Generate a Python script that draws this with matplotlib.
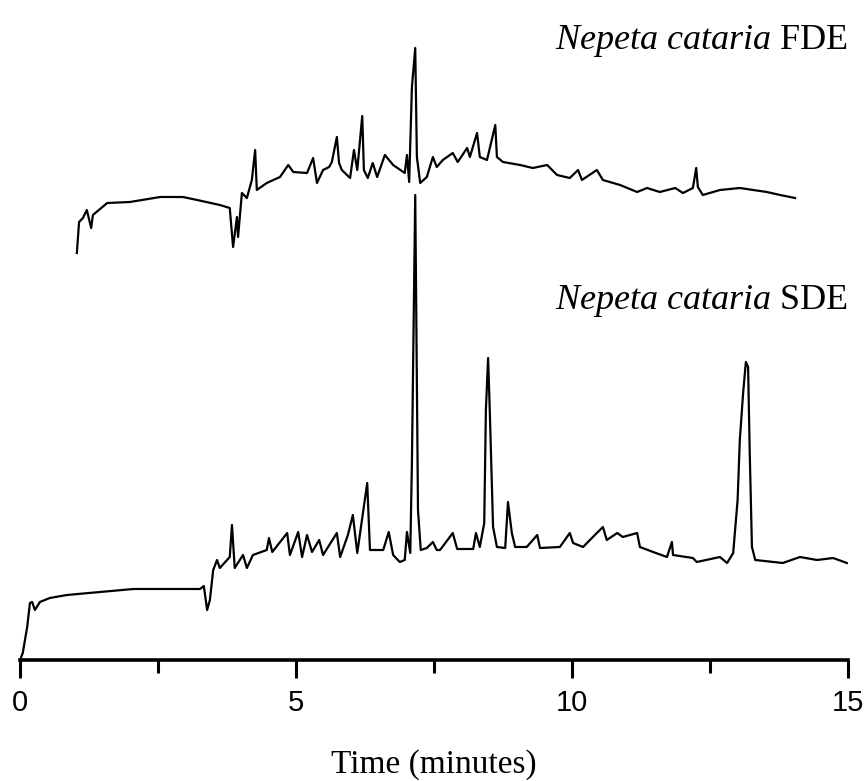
import numpy as np
import matplotlib
matplotlib.use('Agg')
import matplotlib.pyplot as plt
from matplotlib.ticker import MultipleLocator
from matplotlib import font_manager

plt.rcParams['mathtext.fontset'] = 'custom'
plt.rcParams['mathtext.rm'] = 'Liberation Serif'
plt.rcParams['mathtext.it'] = 'Liberation Serif:italic'

# chromatograms (time in minutes, detector response in arbitrary units)
sde_time = [0.00, 0.05, 0.13, 0.18, 0.22, 0.27, 0.36, 0.54, 0.85, 1.45,
            2.05, 2.66, 3.26, 3.33, 3.39, 3.44, 3.50, 3.57, 3.62, 3.80,
            3.84, 3.89, 4.04, 4.11, 4.22, 4.47, 4.51, 4.57, 4.84, 4.89,
            5.04, 5.11, 5.20, 5.29, 5.42, 5.49, 5.74, 5.80, 5.94, 6.03,
            6.11, 6.29, 6.34, 6.58, 6.68, 6.76, 6.88, 6.97, 7.01, 7.07,
            7.10, 7.16, 7.21, 7.26, 7.37, 7.48, 7.55, 7.61, 7.84, 7.92,
            8.21, 8.26, 8.33, 8.41, 8.44, 8.48, 8.51, 8.57, 8.64, 8.79,
            8.84, 8.91, 8.97, 9.18, 9.37, 9.42, 9.78, 9.96, 10.02, 10.20,
            10.45, 10.56, 10.63, 10.82, 10.92, 11.18, 11.23, 11.47, 11.72, 11.81,
            11.83, 12.19, 12.26, 12.68, 12.81, 12.92, 13.00, 13.04, 13.10, 13.15,
            13.19, 13.22, 13.26, 13.32, 13.82, 14.13, 14.44, 14.73, 14.98]
sde_signal = [0, 7, 33, 57, 58, 50, 58, 62, 65, 68,
              71, 71, 71, 74, 50, 60, 90, 100, 92, 103,
              135, 92, 105, 92, 105, 110, 122, 108, 127, 105,
              128, 103, 125, 108, 120, 105, 127, 103, 125, 145,
              107, 177, 110, 110, 128, 105, 98, 100, 128, 107,
              198, 465, 150, 110, 112, 118, 110, 110, 127, 111,
              111, 127, 113, 137, 250, 302, 250, 133, 113, 112,
              158, 127, 113, 113, 125, 112, 113, 127, 117, 113,
              127, 133, 120, 127, 123, 127, 113, 108, 103, 118,
              105, 102, 98, 103, 97, 107, 160, 220, 267, 298,
              293, 207, 113, 100, 97, 103, 100, 102, 97]

fde_time = [1.03, 1.07, 1.14, 1.21, 1.29, 1.32, 1.58, 1.99, 2.54, 2.95,
            3.21, 3.62, 3.80, 3.86, 3.93, 3.95, 4.02, 4.11, 4.20, 4.26,
            4.29, 4.47, 4.71, 4.86, 4.95, 5.20, 5.31, 5.38, 5.49, 5.60,
            5.65, 5.74, 5.78, 5.83, 5.98, 6.05, 6.11, 6.20, 6.23, 6.30,
            6.39, 6.47, 6.61, 6.76, 6.97, 7.01, 7.05, 7.10, 7.16, 7.19,
            7.25, 7.37, 7.48, 7.55, 7.66, 7.84, 7.93, 8.10, 8.15, 8.28,
            8.33, 8.46, 8.61, 8.64, 8.75, 9.06, 9.29, 9.55, 9.73, 9.96,
            10.11, 10.18, 10.45, 10.56, 10.87, 11.18, 11.36, 11.59, 11.87, 12.01,
            12.19, 12.25, 12.28, 12.37, 12.68, 13.04, 13.53, 13.77, 14.04]
fde_signal = [27, 58, 62, 70, 52, 65, 77, 78, 83, 83,
              80, 75, 72, 33, 63, 43, 87, 82, 100, 130,
              90, 97, 103, 115, 108, 107, 122, 97, 110, 113,
              118, 143, 117, 110, 102, 130, 110, 164, 110, 102,
              117, 103, 125, 115, 107, 125, 98, 193, 232, 123,
              97, 103, 123, 113, 120, 127, 118, 132, 123, 147,
              123, 120, 155, 123, 118, 115, 112, 115, 105, 102,
              110, 100, 110, 100, 95, 88, 92, 88, 92, 87,
              92, 112, 93, 85, 90, 92, 88, 85, 82]

fde_offset = 380
labels = [r'$\mathit{Nepeta\ cataria}$ FDE', r'$\mathit{Nepeta\ cataria}$ SDE']

# narrow sans for tick numbers if there is one
names = {f.name for f in font_manager.fontManager.ttflist}
tick_font = 'Liberation Sans Narrow' if 'Liberation Sans Narrow' in names else 'Liberation Sans'

fig = plt.figure(figsize=(8.68, 7.81), dpi=100)
ax = fig.add_axes([20 / 868, 121 / 781, 828 / 868, 640 / 781])

ax.plot(sde_time, sde_signal, color='black', lw=1.6)
ax.plot(fde_time, np.array(fde_signal) + fde_offset, color='black', lw=1.6)

ax.text(15, 611, labels[0], ha='right', va='baseline', fontsize=26,
        family='Liberation Serif')
ax.text(15, 351, labels[1], ha='right', va='baseline', fontsize=26,
        family='Liberation Serif')

ax.set_xlim(0, 15)
ax.set_ylim(0, 640)
for side in ['top', 'right', 'left']:
    ax.spines[side].set_visible(False)
ax.spines['bottom'].set_linewidth(2.6)
ax.set_yticks([])
ax.xaxis.set_major_locator(MultipleLocator(5))
ax.xaxis.set_minor_locator(MultipleLocator(2.5))
ax.tick_params(axis='x', which='major', length=13, width=2.2, pad=8,
               labelsize=21, labelfontfamily=tick_font)
ax.tick_params(axis='x', which='minor', length=9, width=2.2)
ax.set_xlabel('Time (minutes)', fontsize=24, family='Liberation Serif', labelpad=23)

fig.savefig('out.png', dpi=100)
